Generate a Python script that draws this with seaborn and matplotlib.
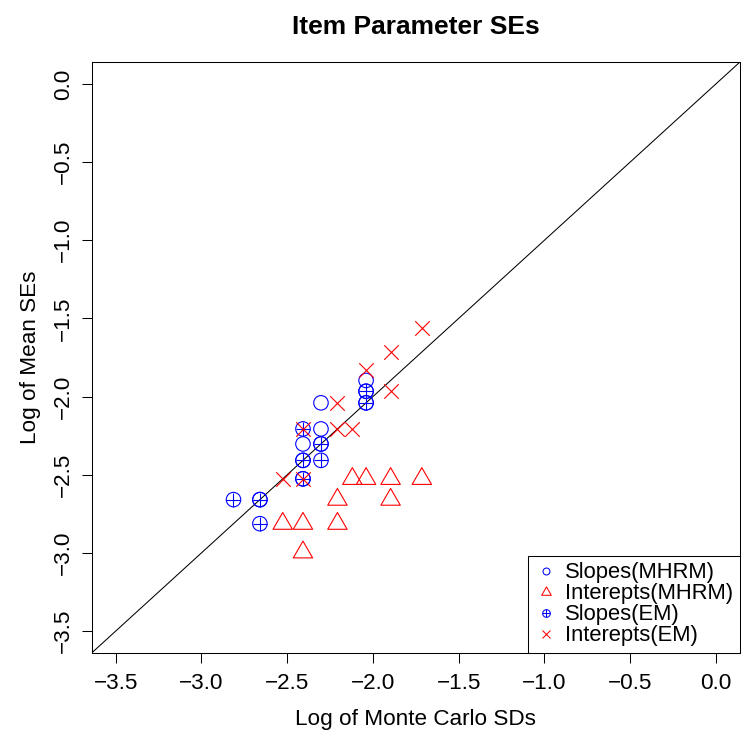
import numpy as np
import pandas as pd
import matplotlib
matplotlib.use("Agg")
import matplotlib.pyplot as plt
from matplotlib.lines import Line2D
from matplotlib.path import Path
from matplotlib.legend_handler import HandlerTuple
import seaborn as sns

# ---- data (log scale values) ----
slopes_mhrm_x = [-2.303, -2.040, -2.303, -2.408, -2.408, -2.303, -2.040, -2.040, -2.659, -2.408]
slopes_mhrm_y = [-2.040, -1.897, -2.207, -2.303, -2.408, -2.303, -1.966, -2.040, -2.659, -2.526]

inter_mhrm_x = [-2.120, -2.040, -1.897, -1.715, -2.207, -1.897, -2.526, -2.408, -2.207, -2.408]
inter_mhrm_y = [-2.526, -2.526, -2.526, -2.526, -2.659, -2.659, -2.813, -2.813, -2.813, -2.996]

slopes_em_x = [-2.408, -2.303, -2.408, -2.303, -2.408, -2.813, -2.659, -2.659, -2.040, -2.040]
slopes_em_y = [-2.207, -2.303, -2.408, -2.408, -2.526, -2.659, -2.659, -2.813, -1.966, -2.040]

inter_em_x = [-1.715, -1.897, -2.040, -1.897, -2.207, -2.207, -2.120, -2.408, -2.526, -2.408]
inter_em_y = [-1.561, -1.715, -1.833, -1.966, -2.040, -2.207, -2.207, -2.207, -2.526, -2.526]

legend_labels = ["Slopes(MHRM)", "Interepts(MHRM)", "Slopes(EM)", "Interepts(EM)"]
tick_values = [-3.5, -3.0, -2.5, -2.0, -1.5, -1.0, -0.5, 0.0]
tick_labels = ["\u22123.5", "\u22123.0", "\u22122.5", "\u22122.0", "\u22121.5", "\u22121.0", "\u22120.5", "0.0"]

df_smh = pd.DataFrame({"x": slopes_mhrm_x, "y": slopes_mhrm_y})
df_imh = pd.DataFrame({"x": inter_mhrm_x, "y": inter_mhrm_y})
df_sem = pd.DataFrame({"x": slopes_em_x, "y": slopes_em_y})
df_iem = pd.DataFrame({"x": inter_em_x, "y": inter_em_y})

sns.set_style("white")
plt.rcParams["font.family"] = ["Liberation Sans", "DejaVu Sans"]

BLUE = "#0000FF"
RED = "#FF0000"

# R-like triangle (pch=2) centred on centroid
tri = Path([(0, 1.555), (1.3468, -0.7776), (-1.3468, -0.7776), (0, 1.555)],
           [Path.MOVETO, Path.LINETO, Path.LINETO, Path.CLOSEPOLY])

fig = plt.figure(figsize=(7.41, 7.38), dpi=100)
ax = fig.add_axes([0.1237, 0.1152, 0.9986 - 0.1237, 0.916 - 0.1152])

LW = 0.8
S_CIRC = 109
S_TRI = 260

ax.axline((0, 0), slope=1, color="black", lw=0.75, zorder=1)

sns.scatterplot(data=df_smh, x="x", y="y", ax=ax, marker="o", s=S_CIRC,
                facecolor="none", edgecolor=BLUE, linewidth=LW, zorder=2)
sns.scatterplot(data=df_imh, x="x", y="y", ax=ax, marker=tri, s=S_TRI,
                facecolor="none", edgecolor=RED, linewidth=LW, zorder=3)
sns.scatterplot(data=df_sem, x="x", y="y", ax=ax, marker="o", s=S_CIRC,
                facecolor="none", edgecolor=BLUE, linewidth=LW, zorder=4)
sns.scatterplot(data=df_sem, x="x", y="y", ax=ax, marker="+", s=S_CIRC,
                color=BLUE, linewidth=LW, zorder=4)
sns.scatterplot(data=df_iem, x="x", y="y", ax=ax, marker="x", s=S_CIRC,
                color=RED, linewidth=LW, zorder=5)

ax.set_xlim(-3.64, 0.14)
ax.set_ylim(-3.64, 0.14)
ax.set_xticks(tick_values)
ax.set_xticklabels(tick_labels)
ax.set_yticks(tick_values)
ax.set_yticklabels(tick_labels, rotation=90, va="center")

FS = 16.2
ax.tick_params(axis="both", which="major", direction="out", length=7.2, width=0.75,
               color="black", labelsize=FS, labelcolor="black")
ax.tick_params(axis="x", pad=7.2, bottom=True)
ax.tick_params(axis="y", pad=5.6, left=True)

for sp in ax.spines.values():
    sp.set_color("black")
    sp.set_linewidth(0.75)
    sp.set_visible(True)

ax.set_xlabel("Log of Monte Carlo SDs", fontsize=FS, color="black")
ax.set_ylabel("Log of Mean SEs", fontsize=FS, color="black")
ax.xaxis.set_label_coords(0.5, -0.095)
ax.yaxis.set_label_coords(-0.078, 0.5)
ax.set_title("Item Parameter SEs", fontsize=19, fontweight="bold", pad=20, color="black")

# legend
h1 = Line2D([], [], ls="none", marker="o", ms=5, mfc="none", mec=BLUE, mew=0.75)
h2 = Line2D([], [], ls="none", marker=tri, ms=8, mfc="none", mec=RED, mew=0.75)
h3a = Line2D([], [], ls="none", marker="o", ms=5.5, mfc="none", mec=BLUE, mew=0.75)
h3b = Line2D([], [], ls="none", marker="+", ms=5.5, mec=BLUE, mew=0.75)
h4 = Line2D([], [], ls="none", marker="x", ms=5.5, mec=RED, mew=0.75)
leg = ax.legend([h1, h2, (h3a, h3b), h4], legend_labels,
                handler_map={tuple: HandlerTuple(ndivide=1, pad=0)},
                loc="lower right", bbox_to_anchor=(1, 0), borderaxespad=0,
                fontsize=15.8, frameon=True, fancybox=False, framealpha=1,
                edgecolor="black", borderpad=0.3, labelspacing=0.0,
                handlelength=1.0, handletextpad=0.4, handleheight=0.7)
leg.get_frame().set_linewidth(0.75)
leg.set_zorder(10)
for t in leg.get_texts():
    t.set_color("black")

fig.savefig("out.png", dpi=100)
